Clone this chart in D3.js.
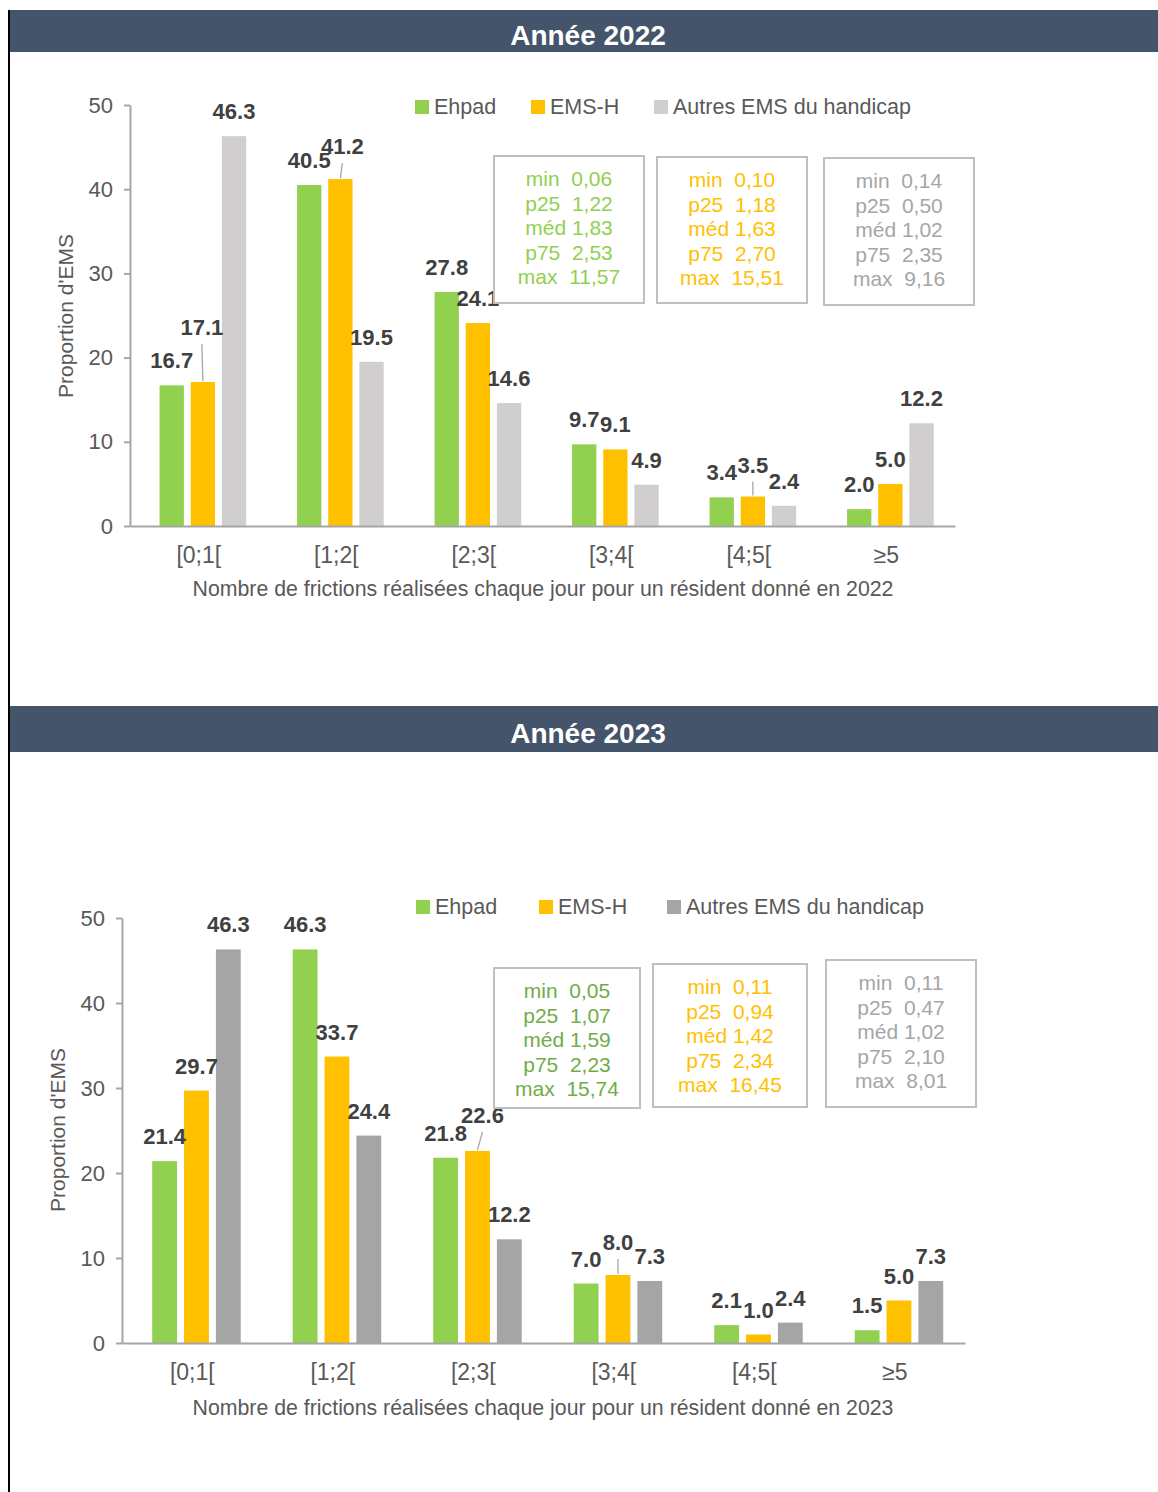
<!DOCTYPE html>
<html>
<head>
<meta charset="utf-8">
<title>Frictions par résident</title>
<script src="https://d3js.org/d3.v7.min.js"></script>
<style>
  body { margin: 0; background: #fff; }
  svg { display: block; font-family: "Liberation Sans", Arial, sans-serif; }
</style>
</head>
<body>
<div id="container"></div>
<script>
    // ---- data ----
    const categories = ['[0;1[', '[1;2[', '[2;3[', '[3;4[', '[4;5[', '≥5'];
    const seriesNames = ['Ehpad', 'EMS-H', 'Autres EMS du handicap'];
    const yTicks = [0, 10, 20, 30, 40, 50];

    const ehpad2022 = [16.7, 40.5, 27.8, 9.7, 3.4, 2.0];
    const emsh2022 = [17.1, 41.2, 24.1, 9.1, 3.5, 5.0];
    const autres2022 = [46.3, 19.5, 14.6, 4.9, 2.4, 12.2];

    const ehpad2023 = [21.4, 46.3, 21.8, 7.0, 2.1, 1.5];
    const emsh2023 = [29.7, 33.7, 22.6, 8.0, 1.0, 5.0];
    const autres2023 = [46.3, 24.4, 12.2, 7.3, 2.4, 7.3];

    const statNames = ['min  ', 'p25  ', 'méd ', 'p75  ', 'max  '];
    const statsEhpad2022 = ['0,06', '1,22', '1,83', '2,53', '11,57'];
    const statsEmsh2022 = ['0,10', '1,18', '1,63', '2,70', '15,51'];
    const statsAutres2022 = ['0,14', '0,50', '1,02', '2,35', '9,16'];
    const statsEhpad2023 = ['0,05', '1,07', '1,59', '2,23', '15,74'];
    const statsEmsh2023 = ['0,11', '0,94', '1,42', '2,34', '16,45'];
    const statsAutres2023 = ['0,11', '0,47', '1,02', '2,10', '8,01'];

    // ---- layout ----
    const width = 1158;
    const height = 1492;
    const textColor = '#595959';
    const labelColor = '#404040';
    const axisColor = '#A6A6A6';

    const panels = [
        {
            title: 'Année 2022', bandY: 10, bandH: 42,
            series: [ehpad2022, emsh2022, autres2022],
            stats: [statsEhpad2022, statsEmsh2022, statsAutres2022],
            colors: ['#92D050', '#FFC000', '#D0CECE'],
            statColors: ['#92D050', '#FFC000', '#A6A6A6'],
            xRange: [130, 955], yRange: [526, 105],
            legendX: [415, 531, 654], legendY: 107,
            boxes: [[494, 156, 150, 147], [657, 157, 150, 146], [824, 158, 150, 147]],
            xTitle: 'Nombre de frictions réalisées chaque jour pour un résident donné en 2022',
            xTitleY: 596, yTitleX: 73, yTitleY: 316,
            // label nudges "series-category" -> [dx, dy]
            shifts: { '1-0': [-1, -30], '1-1': [2, -8], '1-4': [0, -7] }
        },
        {
            title: 'Année 2023', bandY: 706, bandH: 46,
            series: [ehpad2023, emsh2023, autres2023],
            stats: [statsEhpad2023, statsEmsh2023, statsAutres2023],
            colors: ['#92D050', '#FFC000', '#A5A5A5'],
            statColors: ['#70AD47', '#FFC000', '#A6A6A6'],
            xRange: [122, 965], yRange: [1343, 918],
            legendX: [416, 539, 667], legendY: 907,
            boxes: [[494, 968, 146, 140], [653, 964, 154, 143], [826, 960, 150, 147]],
            xTitle: 'Nombre de frictions réalisées chaque jour pour un résident donné en 2023',
            xTitleY: 1415, yTitleX: 65, yTitleY: 1130,
            shifts: { '1-2': [5, -11], '1-3': [0, -8] }
        }
    ];

    const svg = d3.select('#container').append('svg')
        .attr('width', width)
        .attr('height', height);

    // left frame line
    svg.append('line')
        .attr('x1', 9).attr('x2', 9)
        .attr('y1', 10).attr('y2', height)
        .attr('stroke', '#000').attr('stroke-width', 2);

    panels.forEach(p => {
        // title band
        svg.append('rect')
            .attr('x', 10).attr('y', p.bandY)
            .attr('width', width - 10).attr('height', p.bandH)
            .attr('fill', '#44546A');
        svg.append('text')
            .attr('x', 588).attr('y', p.bandY + p.bandH / 2 + 14)
            .attr('text-anchor', 'middle')
            .attr('fill', '#fff')
            .attr('font-size', 28).attr('font-weight', 'bold')
            .text(p.title);

        const x0 = d3.scaleBand().domain(categories).range(p.xRange);
        const bw = x0.bandwidth();
        const x1 = d3.scaleBand().domain(d3.range(seriesNames.length))
            .range([bw * 0.215, bw * 0.845]).paddingInner(0.22);
        const y = d3.scaleLinear().domain([0, 50]).range(p.yRange);

        // bars
        p.series.forEach((vals, s) => {
            svg.append('g').selectAll('rect')
                .data(vals)
                .join('rect')
                .attr('x', (d, i) => x0(categories[i]) + x1(s))
                .attr('y', d => y(d))
                .attr('width', x1.bandwidth())
                .attr('height', d => y(0) - y(d))
                .attr('fill', p.colors[s]);
        });

        // y axis
        const yAxis = svg.append('g')
            .attr('transform', `translate(${p.xRange[0]},0)`)
            .call(d3.axisLeft(y).tickValues(yTicks).tickSize(6).tickPadding(11).tickSizeOuter(0));
        yAxis.select('.domain').attr('stroke', axisColor).attr('stroke-width', 2);
        yAxis.selectAll('.tick line').attr('stroke', axisColor).attr('stroke-width', 2);
        yAxis.selectAll('.tick text').attr('fill', textColor).attr('font-size', 22)
            .attr('font-family', '"Liberation Sans", Arial, sans-serif');

        // x axis
        const xAxis = svg.append('g')
            .attr('transform', `translate(0,${y(0)})`)
            .call(d3.axisBottom(x0).tickSize(0).tickPadding(21));
        xAxis.select('.domain').attr('stroke', axisColor).attr('stroke-width', 2);
        xAxis.selectAll('.tick text').attr('fill', textColor).attr('font-size', 23)
            .attr('font-family', '"Liberation Sans", Arial, sans-serif');

        // value labels
        p.series.forEach((vals, s) => {
            vals.forEach((v, i) => {
                const cx = x0(categories[i]) + x1(s) + x1.bandwidth() / 2;
                const sh = p.shifts[`${s}-${i}`] || [0, 0];
                const lx = cx + sh[0];
                const ly = y(v) - 17 + sh[1];
                if (p.shifts[`${s}-${i}`]) {
                    svg.append('line')
                        .attr('x1', cx).attr('y1', y(v) - 1)
                        .attr('x2', lx).attr('y2', ly + 9)
                        .attr('stroke', axisColor).attr('stroke-width', 1.3);
                }
                svg.append('text')
                    .attr('x', lx).attr('y', ly)
                    .attr('text-anchor', 'middle')
                    .attr('fill', labelColor)
                    .attr('font-size', 22).attr('font-weight', 'bold')
                    .text(d3.format('.1f')(v));
            });
        });

        // legend
        seriesNames.forEach((name, s) => {
            svg.append('rect')
                .attr('x', p.legendX[s]).attr('y', p.legendY - 7)
                .attr('width', 14).attr('height', 14)
                .attr('fill', p.colors[s]);
            svg.append('text')
                .attr('x', p.legendX[s] + 19).attr('y', p.legendY + 7)
                .attr('fill', textColor)
                .attr('font-size', 21.5)
                .text(name);
        });

        // stats boxes
        p.boxes.forEach((b, s) => {
            svg.append('rect')
                .attr('x', b[0]).attr('y', b[1])
                .attr('width', b[2]).attr('height', b[3])
                .attr('fill', '#fff')
                .attr('stroke', '#BFBFBF').attr('stroke-width', 2);
            const t = svg.append('text')
                .attr('text-anchor', 'middle')
                .attr('fill', p.statColors[s])
                .attr('font-size', 21)
                .style('white-space', 'pre');
            p.stats[s].forEach((val, k) => {
                t.append('tspan')
                    .attr('x', b[0] + b[2] / 2)
                    .attr('y', b[1] + 30 + k * 24.5)
                    .text(statNames[k] + val);
            });
        });

        // axis titles
        svg.append('text')
            .attr('x', 543).attr('y', p.xTitleY)
            .attr('text-anchor', 'middle')
            .attr('fill', textColor)
            .attr('font-size', 21.3)
            .text(p.xTitle);
        svg.append('text')
            .attr('transform', `translate(${p.yTitleX},${p.yTitleY}) rotate(-90)`)
            .attr('text-anchor', 'middle')
            .attr('fill', textColor)
            .attr('font-size', 21)
            .text("Proportion d'EMS");
    });
</script>
</body>
</html>
